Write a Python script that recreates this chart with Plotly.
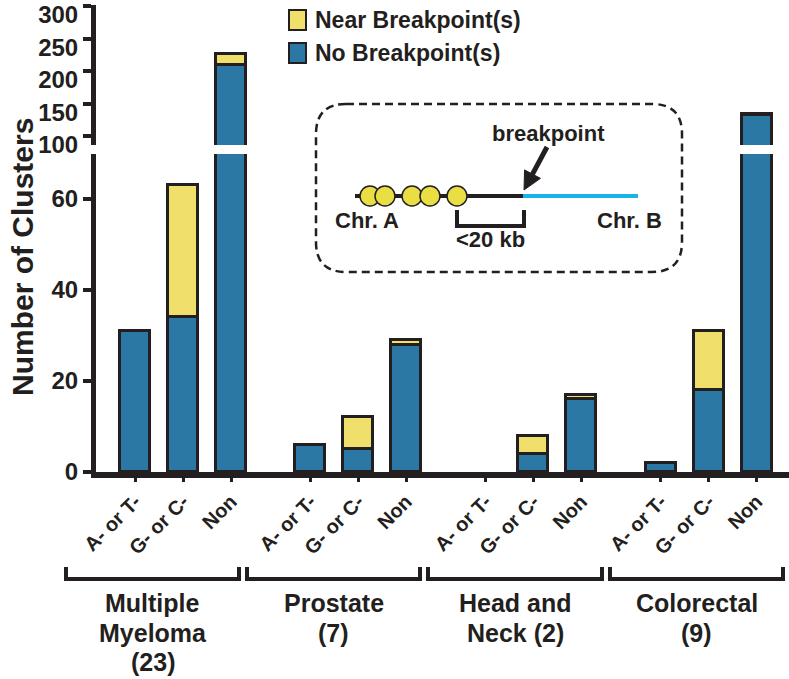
import plotly.graph_objects as go

# ---------------- data ----------------
groups = ["Multiple<br>Myeloma<br>(23)", "Prostate<br>(7)", "Head and<br>Neck (2)", "Colorectal<br>(9)"]
subtypes = ["A- or T-", "G- or C-", "Non"]
no_breakpoint = [31, 34, 209, 6, 5, 28, 0, 4, 16, 2, 18, 132]
near_breakpoint = [0, 29, 17, 0, 7, 1, 0, 4, 1, 0, 13, 2]
lower_ticks = [0, 20, 40, 60]
upper_ticks = [100, 150, 200, 250, 300]
series_names = ["Near Breakpoint(s)", "No Breakpoint(s)"]
y_title = "Number of Clusters"

# ---------------- styling / layout helpers ----------------
BLUE = "#2a78a3"
YELLOW = "#f1df6c"
DARK = "#231f20"
CYAN = "#19b3ea"
DOT_YELLOW = "#e9df45"
FONT = "Liberation Sans, Arial, Helvetica, sans-serif"

W, H = 789, 679
L, R, T, B = 96, 789, 5, 472
PW, PH = R - L, B - T


def fx(p):
    return (p - L) / PW


def fy(p):
    return (B - p) / PH


UNIT = 48.0
GROUP_STEP = 3.65
X0PX = 135
x_pos = [g * GROUP_STEP + i for g in range(len(groups)) for i in range(len(subtypes))]
x_labels = [s for g in groups for s in subtypes]

LOW_PX_PER = 4.55
UP_PX_PER = 0.65
low_top_px, up_bot_px = 154, 145
low_range = [0, (B - low_top_px) / LOW_PX_PER]
up_range = [100 - (up_bot_px - 136) / UP_PX_PER, 100 + (136 - T) / UP_PX_PER]

fig = go.Figure()
for ax in ["y", "y2"]:
    fig.add_trace(go.Bar(x=x_pos, y=no_breakpoint, name=series_names[1], yaxis=ax, xaxis="x",
                         width=0.625,
                         marker=dict(color=BLUE, line=dict(color=DARK,
                                                           width=[3 if v else 0 for v in no_breakpoint])),
                         showlegend=False))
    fig.add_trace(go.Bar(x=x_pos, y=near_breakpoint, name=series_names[0], yaxis=ax, xaxis="x",
                         width=0.625,
                         marker=dict(color=YELLOW, line=dict(color=DARK,
                                                             width=[3 if v else 0 for v in near_breakpoint])),
                         showlegend=False))

axis_common = dict(showline=True, linecolor=DARK, showgrid=False, zeroline=False, automargin=False,
                   ticks="outside", tickcolor=DARK, fixedrange=True)

fig.update_layout(
    template="none",
    width=W, height=H, barmode="stack", bargap=0,
    paper_bgcolor="white", plot_bgcolor="white",
    margin=dict(l=L, r=W - R, t=T, b=H - B, autoexpand=False),
    font=dict(family=FONT, color=DARK, weight="bold"),
    xaxis=dict(range=[(L - X0PX) / UNIT, (R - X0PX) / UNIT], tickvals=x_pos, ticktext=x_labels,
               tickangle=-45, linewidth=6, ticklen=4, tickwidth=3, anchor="y",
               tickfont=dict(size=20, family=FONT, color=DARK, weight="bold"),
               **axis_common),
    yaxis=dict(domain=[0, fy(low_top_px)], range=low_range, tickvals=lower_ticks,
               linewidth=5, ticklen=8, tickwidth=4, anchor="x",
               tickfont=dict(size=24, family=FONT, color=DARK, weight="bold"), **axis_common),
    yaxis2=dict(domain=[fy(up_bot_px), 1], range=up_range, tickvals=upper_ticks,
                linewidth=5, ticklen=8, tickwidth=4, anchor="x", ticklabelshift=9,
                tickfont=dict(size=24, family=FONT, color=DARK, weight="bold"), **axis_common),
)

shapes = []
annotations = []


def text(x, y, s, size, **kw):
    annotations.append(dict(x=fx(x), y=fy(y), xref="paper", yref="paper", text=s, showarrow=False,
                            font=dict(size=size, family=FONT, color=DARK, weight="bold"),
                            xanchor=kw.get("xanchor", "center"), yanchor=kw.get("yanchor", "middle"),
                            textangle=kw.get("angle", 0)))


def line(x0, y0, x1, y1, color=DARK, width=4, dash="solid"):
    shapes.append(dict(type="line", xref="paper", yref="paper", x0=fx(x0), y0=fy(y0), x1=fx(x1), y1=fy(y1),
                       line=dict(color=color, width=width, dash=dash)))


def path(pts, color=DARK, width=4, fill=None, close=False, dash="solid"):
    d = "M " + " L ".join(f"{fx(a)},{fy(b)}" for a, b in pts)
    if close:
        d += " Z"
    shapes.append(dict(type="path", xref="paper", yref="paper", path=d,
                       line=dict(color=color, width=width, dash=dash),
                       fillcolor=fill if fill else "rgba(0,0,0,0)"))


# y-axis title
text(22, 257, y_title, 30, angle=-90)

# group brackets and labels
brackets = [(66, 239), (247, 420), (428, 602), (610, 783)]
for (a, b), g in zip(brackets, groups):
    path([(a, 567), (a, 579), (b, 579), (b, 567)], width=4)
    for k, ln in enumerate(g.split("<br>")):
        text((a + b) / 2, 603 + 29.5 * k, ln, 25)

# legend
for k, (nm, col) in enumerate(zip(series_names, [YELLOW, BLUE])):
    cy = 20 + 33 * k
    shapes.append(dict(type="rect", xref="paper", yref="paper", x0=fx(289), x1=fx(306), y0=fy(cy - 10),
                       y1=fy(cy + 10), fillcolor=col, line=dict(color=DARK, width=2)))
    text(313, cy, nm, 23, xanchor="left")

# inset: dashed rounded box
bx0, bx1, by0, by1, r = 316, 682, 104, 272, 30
d = (f"M {fx(bx0 + r)},{fy(by0)} L {fx(bx1 - r)},{fy(by0)} Q {fx(bx1)},{fy(by0)} {fx(bx1)},{fy(by0 + r)} "
     f"L {fx(bx1)},{fy(by1 - r)} Q {fx(bx1)},{fy(by1)} {fx(bx1 - r)},{fy(by1)} "
     f"L {fx(bx0 + r)},{fy(by1)} Q {fx(bx0)},{fy(by1)} {fx(bx0)},{fy(by1 - r)} "
     f"L {fx(bx0)},{fy(by0 + r)} Q {fx(bx0)},{fy(by0)} {fx(bx0 + r)},{fy(by0)} Z")
shapes.append(dict(type="path", xref="paper", yref="paper", path=d,
                   line=dict(color=DARK, width=2.5, dash="8px,5px")))

# chromosome lines
line(355, 196, 523, 196, color=DARK, width=4)
line(523, 196, 638, 196, color=CYAN, width=4)
for cx in [370, 385, 412, 430, 457]:
    shapes.append(dict(type="circle", xref="paper", yref="paper", x0=fx(cx - 10), x1=fx(cx + 10),
                       y0=fy(196 - 10), y1=fy(196 + 10), fillcolor=DOT_YELLOW,
                       line=dict(color=DARK, width=1.5)))
text(367, 220, "Chr. A", 22)
text(629, 220, "Chr. B", 22)
path([(457, 210), (457, 226), (524, 226), (524, 210)], width=4)
text(490, 239, "&lt;20 kb", 22)

# arrow to breakpoint
tip = (524, 190)
tail = (547, 147)
ux, uy = tip[0] - tail[0], tip[1] - tail[1]
ln_ = (ux ** 2 + uy ** 2) ** 0.5
ux, uy = ux / ln_, uy / ln_
hl, hw = 18, 9
bcx, bcy = tip[0] - hl * ux, tip[1] - hl * uy
px_, py_ = -uy, ux
line(tail[0], tail[1], bcx, bcy, width=5)
path([tip, (bcx + hw * px_, bcy + hw * py_), (bcx - hw * px_, bcy - hw * py_)], width=1, fill=DARK,
     close=True)
text(548, 133, "breakpoint", 22)

fig.update_layout(shapes=shapes, annotations=annotations)
fig.write_html("out.html", config={"displayModeBar": False},
               post_script="document.body.style.margin='0';document.body.style.padding='0';")
